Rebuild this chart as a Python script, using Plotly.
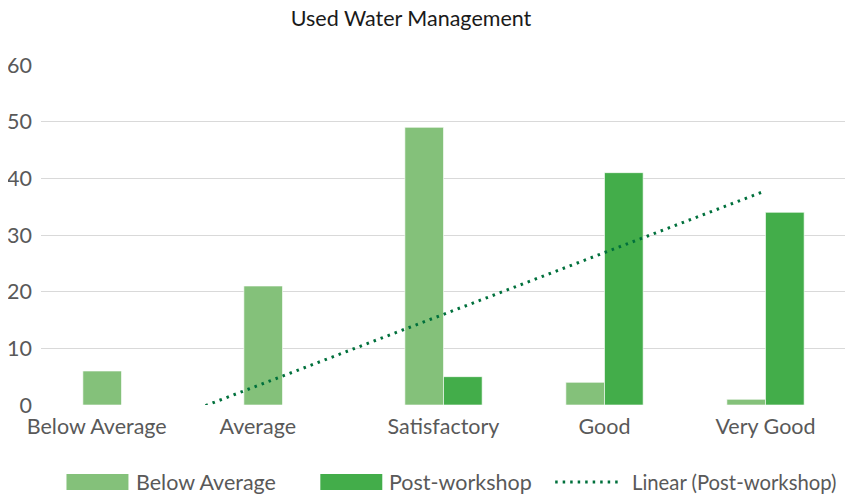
import numpy as np
import plotly.graph_objects as go

categories = ["Below Average", "Average", "Satisfactory", "Good", "Very Good"]
below_average = [6, 21, 49, 4, 1]
post_workshop = [0, 0, 5, 41, 34]
y_ticks = [0, 10, 20, 30, 40, 50, 60]

LIGHT = "#84C17A"
DARK = "#43AD4A"
TREND = "#00703C"
FONT = "Lato, 'Open Sans', sans-serif"
TICK = 21.5

idx = np.arange(len(categories))
# linear trendline (least squares) of the Post-workshop series
slope, intercept = np.polyfit(idx, np.array(post_workshop, dtype=float), 1)
trend_y = intercept + slope * idx

fig = go.Figure()
fig.add_trace(go.Bar(x=idx, y=below_average, name="Below Average",
                     marker=dict(color=LIGHT, line=dict(color="rgba(255,255,255,0.6)", width=1)),
                     showlegend=False))
fig.add_trace(go.Bar(x=idx, y=post_workshop, name="Post-workshop",
                     marker=dict(color=DARK, line=dict(color="rgba(255,255,255,0.6)", width=1)),
                     showlegend=False))
fig.add_trace(go.Scatter(x=idx, y=trend_y, mode="lines", name="Linear (Post-workshop)",
                         line=dict(color=TREND, width=3, dash="2.5px,5px"),
                         showlegend=False))

ticktext = [categories[0] + "\u00a0" * 9, categories[1] + "\u00a0" * 9] + categories[2:]

# page is offset by 8px body margin; figure coords = page coords - 8
L, R, T, B = 32.5, 15, 57, 101
W, H = 853.0, 498.0
PW = W - L - R
PH = H - T - B

fig.update_layout(
    width=853, height=498,
    margin=dict(l=L, r=R, t=T, b=B),
    paper_bgcolor="white", plot_bgcolor="white",
    barmode="group", bargap=0.52, bargroupgap=0,
    font=dict(family=FONT, color="#595959", size=TICK),
    title=dict(text="Used Water Management", x=403 / W, xref="container", xanchor="center",
               y=1 - 10 / H, yref="container", yanchor="middle",
               font=dict(family=FONT, size=21.5, color="#1a1a1a")),
    xaxis=dict(range=[-0.5, 4.5], tickmode="array", tickvals=list(idx), ticktext=ticktext,
               showgrid=False, zeroline=False, showline=False, ticks="",
               tickangle=0, automargin=False, ticklabelstandoff=6,
               tickfont=dict(size=TICK, color="#595959")),
    yaxis=dict(range=[0, 60], tickmode="array", tickvals=y_ticks,
               showgrid=True, gridcolor="#D9D9D9", gridwidth=1.3, zeroline=False,
               showline=False, ticks="", ticklabelstandoff=8, automargin=False,
               tickfont=dict(size=TICK, color="#595959")),
)

# manual legend (page pixel positions)
items = [
    (66, 128, "bar", LIGHT, 137, "Below Average", TICK),
    (320, 382, "bar", DARK, 390, "Post-workshop", TICK),
    (555, 622, "line", TREND, 633, "Linear (Post-workshop)", 20.3),
]


def px(x):
    return (x - 8 - L) / PW


def py(y):
    return (H - B - (y - 8)) / PH


for x0, x1, kind, col, tx, label, fs in items:
    yc = 482
    if kind == "bar":
        fig.add_shape(type="rect", xref="paper", yref="paper",
                      x0=px(x0), x1=px(x1), y0=py(yc - 8), y1=py(yc + 8),
                      fillcolor=col, line=dict(width=0))
    else:
        fig.add_shape(type="line", xref="paper", yref="paper",
                      x0=px(x0), x1=px(x1), y0=py(yc), y1=py(yc),
                      line=dict(color=col, width=3, dash="2.5px,5px"))
    fig.add_annotation(text=label, xref="paper", yref="paper",
                       x=px(tx), y=py(yc), xanchor="left", yanchor="middle",
                       showarrow=False, xshift=-3,
                       font=dict(family=FONT, size=fs, color="#595959"))

fig.write_html("out.html")
